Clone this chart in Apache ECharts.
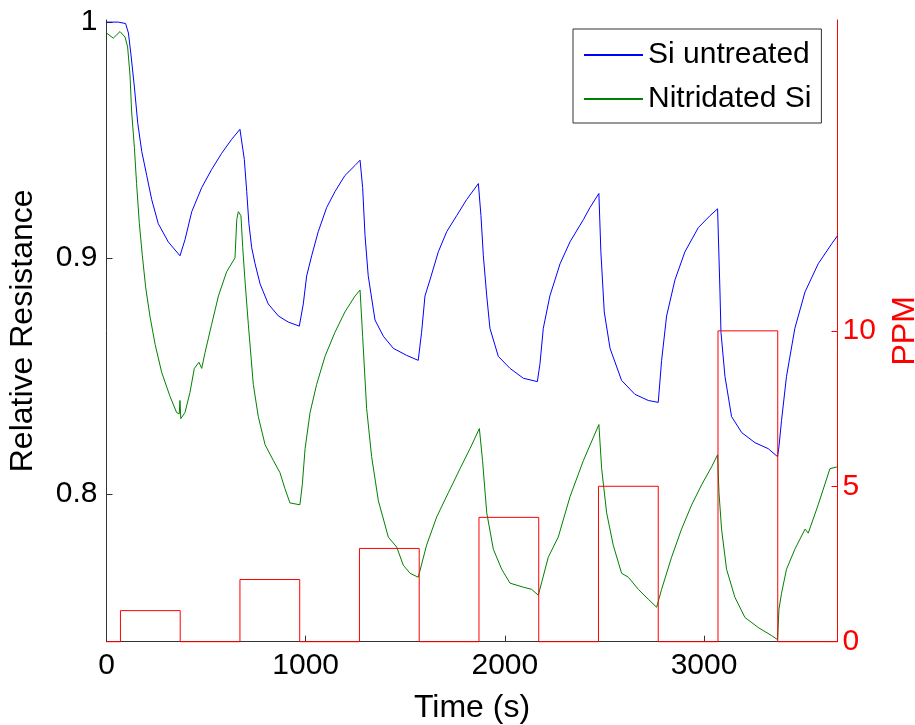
<!DOCTYPE html>
<html>
<head>
<meta charset="utf-8">
<script src="https://cdn.jsdelivr.net/npm/echarts@6/dist/echarts.min.js"></script>
<style>html,body{margin:0;padding:0;background:#fff;}#c{width:915px;height:725px;}</style>
</head>
<body>
<div id="c"></div>
<script>
// ---- data ----
var blueT = [0,59,96,110,123,140,157,177,202,227,260,310,369,394,428,478,528,578,628,670,679,692,704,715,729,746,771,812,863,913,968,988,1005,1030,1063,1105,1147,1197,1248,1273,1286,1298,1314,1348,1390,1440,1507,1565,1582,1599,1624,1666,1708,1758,1808,1867,1880,1892,1909,1925,1967,2026,2093,2163,2176,2193,2226,2277,2327,2394,2427,2472,2482,2499,2528,2586,2653,2720,2770,2787,2812,2854,2904,2971,3030,3068,3080,3085,3105,3138,3189,3256,3322,3369,3376,3389,3414,3456,3507,3573,3641,3670];
var blueV = [1.000,1.000,0.9994,0.9954,0.9861,0.9725,0.9571,0.9452,0.9350,0.9248,0.9146,0.9069,0.9010,0.9078,0.9197,0.9299,0.9376,0.9444,0.9503,0.9546,0.9551,0.9418,0.9282,0.9146,0.9044,0.8976,0.8891,0.8806,0.8755,0.8729,0.8712,0.8806,0.8925,0.9010,0.9112,0.9214,0.9282,0.9350,0.9393,0.9415,0.9299,0.9095,0.8925,0.8738,0.8669,0.8618,0.8588,0.8567,0.8686,0.8840,0.8908,0.9027,0.9112,0.9180,0.9248,0.9316,0.9180,0.9010,0.8840,0.8703,0.8584,0.8533,0.8491,0.8477,0.8550,0.8703,0.8840,0.8976,0.9069,0.9163,0.9214,0.9274,0.9027,0.8772,0.8618,0.8482,0.8423,0.8397,0.8389,0.8567,0.8755,0.8908,0.9027,0.9129,0.9180,0.9209,0.8857,0.8686,0.8499,0.8329,0.8261,0.8218,0.8193,0.8159,0.8201,0.8312,0.8499,0.8703,0.8857,0.8976,0.9061,0.9095];

var greenT = [0,34,68,93,106,118,126,140,151,165,180,197,218,244,277,319,352,365,369,373,377,394,419,441,464,478,495,528,562,603,645,654,662,675,684,695,712,737,762,796,838,871,896,921,971,983,997,1022,1055,1097,1147,1197,1248,1273,1286,1306,1331,1365,1415,1457,1490,1524,1565,1607,1658,1716,1775,1825,1872,1888,1909,1942,1984,2026,2093,2134,2168,2218,2268,2327,2394,2472,2486,2511,2544,2586,2620,2670,2720,2762,2787,2837,2887,2938,2988,3038,3068,3075,3088,3113,3155,3205,3272,3339,3369,3376,3389,3414,3456,3507,3523,3573,3632,3670];
var greenV = [0.9954,0.9932,0.9960,0.9937,0.9895,0.9776,0.9623,0.9469,0.9316,0.9146,0.9010,0.8874,0.8755,0.8635,0.8516,0.8414,0.8346,0.8340,0.8397,0.8320,0.8312,0.8346,0.8431,0.8533,0.8559,0.8533,0.8601,0.8720,0.8840,0.8942,0.9001,0.9163,0.9197,0.9180,0.9044,0.8908,0.8720,0.8465,0.8329,0.8210,0.8142,0.8091,0.8023,0.7963,0.7955,0.8040,0.8193,0.8346,0.8465,0.8584,0.8686,0.8772,0.8840,0.8865,0.8669,0.8363,0.8159,0.7972,0.7818,0.7776,0.7699,0.7665,0.7648,0.7784,0.7904,0.8006,0.8108,0.8193,0.8278,0.8142,0.7921,0.7767,0.7682,0.7623,0.7606,0.7597,0.7572,0.7733,0.7818,0.7989,0.8142,0.8295,0.8108,0.7921,0.7784,0.7665,0.7648,0.7597,0.7555,0.7521,0.7597,0.7733,0.7852,0.7955,0.8040,0.8116,0.8167,0.8006,0.7852,0.7682,0.7563,0.7478,0.7435,0.7401,0.7384,0.7512,0.7580,0.7682,0.7767,0.7852,0.7835,0.7955,0.8108,0.8116];

var ppmStart = [70,670,1270,1870,2470,3070];
var ppmEnd   = [370,970,1570,2170,2770,3370];
var ppmLevel = [1,2,3,4,5,10];
var timeEnd = 3670;

var xTicks = [0,1000,2000,3000];
var yLeftTicks = [0.8,0.9,1.0];
var yRightTicks = [0,5,10];

var names = ['Si untreated','Nitridated Si'];

// ---- build series data ----
function zip(t, v){ var o=[]; for(var i=0;i<t.length;i++) o.push([t[i], v[i]]); return o; }
var ppmData = [[0,0]];
for (var i=0;i<ppmStart.length;i++){
  ppmData.push([ppmStart[i],0],[ppmStart[i],ppmLevel[i]],[ppmEnd[i],ppmLevel[i]],[ppmEnd[i],0]);
}
ppmData.push([timeEnd,0]);

var FONT = '"Liberation Sans", Arial, Helvetica, sans-serif';
var TICK_FS = 30, NAME_FS = 32, LEG_FS = 30;
var chart = echarts.init(document.getElementById('c'), null, {renderer:'canvas'});
chart.setOption({
  animation:false,
  backgroundColor:'#fff',
  textStyle:{fontFamily:FONT},
  grid:{left:106.5, right:77.5, top:20, bottom:83.3, containLabel:false, outerBoundsMode:'none'},
  legend:{
    data:names, orient:'vertical', left:573, top:29,
    padding:[11,10,9,10], itemGap:14, itemWidth:59, itemHeight:14,
    borderColor:'#333', borderWidth:1, backgroundColor:'#fff',
    itemStyle:{opacity:0},
    textStyle:{fontSize:LEG_FS, color:'#000', fontFamily:FONT}
  },
  xAxis:{
    type:'value', min:0, max:timeEnd, interval:1000,
    name:'Time (s)', nameLocation:'middle', nameGap:50,
    nameTextStyle:{fontSize:NAME_FS, color:'#000', fontFamily:FONT},
    axisLine:{lineStyle:{color:'#333', width:1}},
    axisTick:{inside:true, length:6, lineStyle:{color:'#333'}, customValues:xTicks},
    axisLabel:{fontSize:TICK_FS, color:'#000', margin:9, customValues:xTicks, fontFamily:FONT,
      formatter:function(v){ return String(Math.round(v)); }},
    splitLine:{show:false}
  },
  yAxis:[{
    type:'value', min:0.7375, max:1.0009, position:'left',
    name:'Relative Resistance', nameLocation:'middle', nameGap:67, nameRotate:90,
    nameTextStyle:{fontSize:NAME_FS, color:'#000', fontFamily:FONT},
    axisLine:{show:true, lineStyle:{color:'#333', width:1}},
    axisTick:{show:true, inside:true, length:6, lineStyle:{color:'#333'}, customValues:yLeftTicks},
    axisLabel:{fontSize:TICK_FS, color:'#000', margin:9, customValues:yLeftTicks, fontFamily:FONT,
      formatter:function(v){ return Math.abs(v-1)<1e-9 ? '1' : v.toFixed(1); }},
    splitLine:{show:false}
  },{
    type:'value', min:0, max:20, position:'right',
    name:'PPM', nameLocation:'middle', nameGap:52, nameRotate:90,
    nameTextStyle:{fontSize:NAME_FS, color:'#ff0000', fontFamily:FONT},
    axisLine:{show:true, lineStyle:{color:'#ff0000', width:1}},
    axisTick:{show:true, inside:true, length:6, lineStyle:{color:'#ff0000'}, customValues:yRightTicks},
    axisLabel:{fontSize:TICK_FS, color:'#ff0000', margin:5, customValues:yRightTicks, fontFamily:FONT},
    splitLine:{show:false}
  }],
  series:[
    {name:names[0], type:'line', data:zip(blueT,blueV), symbol:'none', showSymbol:false,
     lineStyle:{color:'#0000ff', width:1}, itemStyle:{color:'#0000ff'}, z:3},
    {name:names[1], type:'line', data:zip(greenT,greenV), symbol:'none', showSymbol:false,
     lineStyle:{color:'#008000', width:1}, itemStyle:{color:'#008000'}, z:3},
    {name:'PPM', type:'line', yAxisIndex:1, data:ppmData, symbol:'none', showSymbol:false, clip:false,
     lineStyle:{color:'#ff0000', width:1}, itemStyle:{color:'#ff0000'}, z:4}
  ]
});
</script>
</body>
</html>
